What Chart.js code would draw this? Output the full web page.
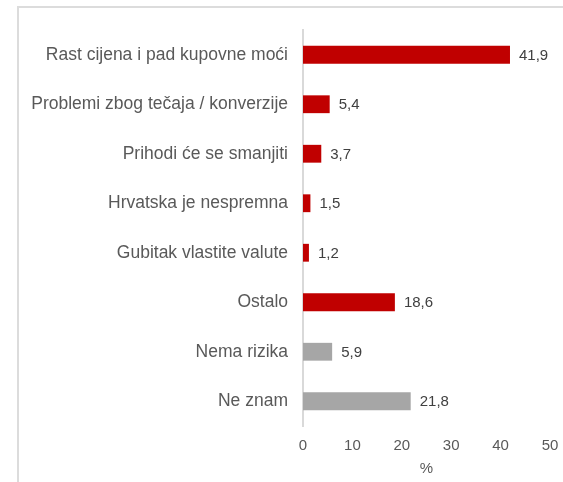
<!DOCTYPE html>
<html>
<head>
<meta charset="utf-8">
<script src="https://cdn.jsdelivr.net/npm/chart.js@4/dist/chart.umd.min.js"></script>
<style>
  html, body { margin: 0; padding: 0; background: #fff; }
  canvas { display: block; }
</style>
</head>
<body>
<canvas id="chart" width="563" height="482"></canvas>
<script>
const categories = [
  'Rast cijena i pad kupovne moći',
  'Problemi zbog tečaja / konverzije',
  'Prihodi će se smanjiti',
  'Hrvatska je nespremna',
  'Gubitak vlastite valute',
  'Ostalo',
  'Nema rizika',
  'Ne znam'
];
const values = [41.9, 5.4, 3.7, 1.5, 1.2, 18.6, 5.9, 21.8];
const barColors = ['#c00000', '#c00000', '#c00000', '#c00000', '#c00000', '#c00000', '#a6a6a6', '#a6a6a6'];
const xTicks = [0, 10, 20, 30, 40, 50];

const FONT = "'Liberation Sans', Arial, sans-serif";
const TEXT = '#595959';

// light frame on the left and top, like the original slide box
const framePlugin = {
  id: 'frame',
  beforeDraw(chart) {
    const ctx = chart.ctx;
    ctx.save();
    ctx.strokeStyle = '#dcdcdc';
    ctx.lineWidth = 2;
    ctx.beginPath();
    ctx.moveTo(18, chart.height);
    ctx.lineTo(18, 7);
    ctx.lineTo(chart.width, 7);
    ctx.stroke();
    ctx.restore();
  }
};

// value labels after each bar
const valueLabels = {
  id: 'valueLabels',
  afterDatasetsDraw(chart) {
    const ctx = chart.ctx;
    const meta = chart.getDatasetMeta(0);
    ctx.save();
    ctx.font = '15px ' + FONT;
    ctx.fillStyle = '#404040';
    ctx.textBaseline = 'middle';
    ctx.textAlign = 'left';
    meta.data.forEach((bar, i) => {
      ctx.fillText(values[i].toFixed(1).replace('.', ','), bar.x + 9, bar.y + 1);
    });
    ctx.restore();
  }
};

new Chart(document.getElementById('chart'), {
  type: 'bar',
  data: {
    labels: categories,
    datasets: [{
      data: values,
      backgroundColor: barColors,
      borderWidth: 0,
      barPercentage: 0.36,
      categoryPercentage: 1
    }]
  },
  options: {
    indexAxis: 'y',
    responsive: false,
    animation: false,
    layout: { padding: { top: 30, right: 13, left: 0, bottom: 0 } },
    plugins: {
      legend: { display: false },
      tooltip: { enabled: false }
    },
    scales: {
      x: {
        min: 0,
        max: 50,
        afterBuildTicks(scale) {
          scale.ticks = xTicks.map(v => ({ value: v }));
        },
        grid: { display: false },
        border: { display: false },
        ticks: {
          color: TEXT,
          font: { family: FONT, size: 15 },
          padding: 3
        },
        title: {
          display: true,
          text: '%',
          color: TEXT,
          font: { family: FONT, size: 15 },
          padding: { top: 2, bottom: 4 }
        },
        afterFit(scale) { scale.height = 56; }
      },
      y: {
        grid: { display: false, drawTicks: false },
        border: { display: true, color: '#d9d9d9', width: 2 },
        ticks: {
          color: TEXT,
          font: { family: FONT, size: 17.5 },
          padding: 15
        },
        afterFit(scale) { scale.width = 303; }
      }
    }
  },
  plugins: [framePlugin, valueLabels]
});
</script>
</body>
</html>
